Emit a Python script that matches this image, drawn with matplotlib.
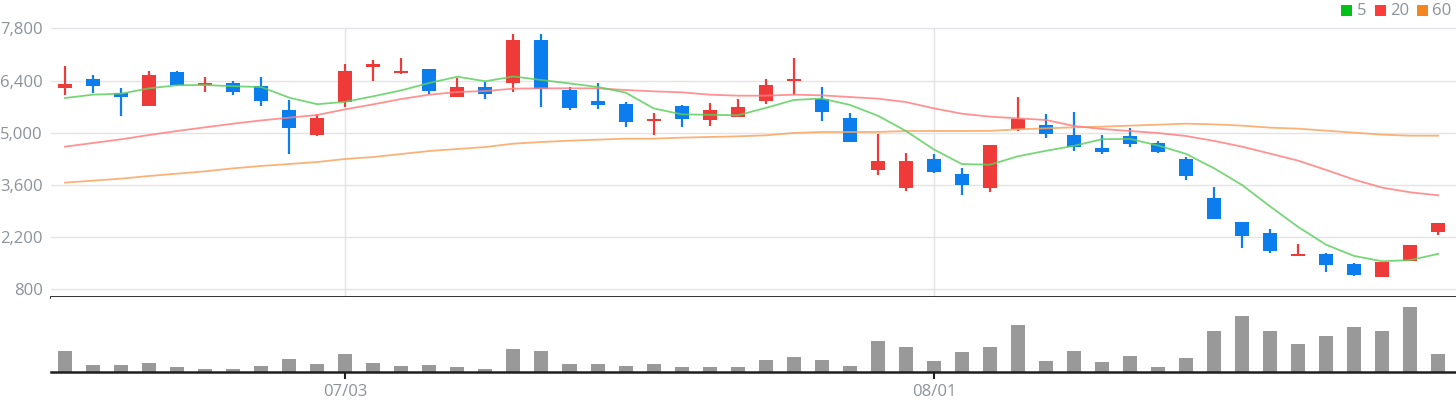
import matplotlib
matplotlib.use("Agg")
import matplotlib.pyplot as plt
from matplotlib.patches import Rectangle

plt.rcParams['font.family'] = ['Open Sans', 'DejaVu Sans']

# ---------------- data ----------------
opens  = [6210, 6440, 6065, 5725, 6630, 6280, 6335, 6255, 5610, 4950,
          5835, 6770, 6610, 6710, 5970, 6225, 6345, 7485, 6145, 5850,
          5770, 5325, 5715, 5350, 5430, 5860, 6395, 5915, 5395, 4010,
          3525, 4295, 3895, 3525, 5110, 5205, 4940, 4590, 4910, 4725,
          4295, 3250, 2605, 2310, 1705, 1750, 1480, 1140, 1570, 2345]
highs  = [6790, 6550, 6200, 6655, 6655, 6495, 6390, 6495, 5880, 5500,
          6845, 6950, 7005, 6710, 6475, 6360, 7650, 7650, 6220, 6335,
          5825, 5530, 5745, 5800, 5905, 6440, 7005, 6225, 5530, 4965,
          4455, 4430, 4055, 4670, 5960, 5500, 5555, 4940, 5125, 4780,
          4350, 3545, 2605, 2420, 2015, 1775, 1505, 1535, 1990, 2580]
lows   = [6010, 6075, 5460, 5725, 6260, 6090, 6010, 5715, 4430, 4910,
          5690, 6390, 6585, 6050, 5970, 5915, 6100, 5700, 5620, 5645,
          5165, 4950, 5165, 5190, 5430, 5780, 6010, 5325, 4760, 3875,
          3445, 3930, 3340, 3420, 5055, 4870, 4520, 4440, 4625, 4465,
          3740, 2695, 1910, 1785, 1705, 1275, 1165, 1140, 1570, 2265]
closes = [6310, 6260, 5970, 6550, 6280, 6335, 6100, 5860, 5135, 5395,
          6655, 6845, 6655, 6130, 6225, 6050, 7485, 6180, 5670, 5755,
          5295, 5370, 5375, 5610, 5690, 6280, 6440, 5565, 4760, 4240,
          4240, 3955, 3605, 4670, 5370, 4975, 4625, 4490, 4705, 4490,
          3850, 2695, 2240, 1835, 1740, 1460, 1195, 1535, 1990, 2580]
volumes = [21, 7, 7, 9, 5, 3, 3, 6, 13, 8,
           18, 9, 6, 7, 5, 3, 23, 21, 8, 8,
           6, 8, 5, 5, 5, 12, 15, 12, 6, 31,
           25, 11, 20, 25, 47, 11, 21, 10, 16, 5,
           14, 41, 56, 41, 28, 36, 45, 41, 65, 18]
volumes = [v * 10000 for v in volumes]

ma5 = [5932, 6021, 6048, 6191, 6274, 6279, 6247, 6225, 5942, 5765,
       5829, 5978, 6137, 6336, 6502, 6381, 6509, 6414, 6322, 6228,
       6077, 5654, 5493, 5481, 5468, 5665, 5879, 5917, 5747, 5457,
       5049, 4552, 4160, 4142, 4368, 4515, 4649, 4826, 4833, 4657,
       4432, 4046, 3596, 3022, 2472, 1994, 1694, 1553, 1584, 1752]
ma20 = [4626, 4725, 4823, 4939, 5047, 5145, 5243, 5330, 5405, 5476,
        5628, 5762, 5905, 6021, 6092, 6119, 6182, 6191, 6191, 6191,
        6146, 6110, 6084, 6021, 5994, 5994, 6021, 6003, 5958, 5914,
        5824, 5654, 5511, 5431, 5386, 5342, 5181, 5100, 5047, 4993,
        4912, 4780, 4626, 4439, 4251, 4001, 3741, 3527, 3402, 3321]
ma60 = [3661, 3715, 3768, 3840, 3902, 3965, 4045, 4108, 4161, 4215,
        4296, 4349, 4430, 4510, 4564, 4617, 4707, 4751, 4787, 4814,
        4841, 4841, 4868, 4886, 4903, 4930, 4993, 5020, 5020, 5020,
        5047, 5047, 5047, 5050, 5091, 5118, 5145, 5163, 5190, 5216,
        5243, 5225, 5190, 5136, 5109, 5055, 5002, 4948, 4921, 4921]

tick_pos = [10, 31]
tick_labels = ["07/03", "08/01"]
price_ticks = [800, 2200, 3600, 5000, 6400, 7800]
legend_labels = ["5", "20", "60"]

# ---------------- style ----------------
W, H = 1456, 400
UP = "#EF3A3A"
DOWN = "#0B7DEC"
GRID = "#E2E4E8"
TXT = "#8C929A"
MA_COLORS = ["#5FCF5F", "#FF7F7F", "#F8A560"]
LEG_COLORS = ["#00C21A", "#FF3B3B", "#F5861F"]

fig = plt.figure(figsize=(W / 100, H / 100), dpi=100)
fig.patch.set_facecolor("white")

def px_axes(x0, y0, x1, y1):
    return fig.add_axes([x0 / W, 1 - y1 / H, (x1 - x0) / W, (y1 - y0) / H])

ax = px_axes(51, 0, 1456, 297)
axv = px_axes(51, 297, 1456, 372)

n = len(closes)
xs = list(range(n))
xlim = (-0.5, 49.63)

# price pane
ax.set_xlim(*xlim)
ax.set_ylim(594, 8560)
for t in price_ticks:
    ax.axhline(t, color=GRID, lw=1.0, zorder=0)
for t in tick_pos:
    ax.vlines(t, 594, 7800, color=GRID, lw=1.0, zorder=0)

for i in xs:
    o, h, l, c = opens[i], highs[i], lows[i], closes[i]
    col = UP if c >= o else DOWN
    ax.vlines(i, l, h, color=col, lw=1.6, zorder=3)
    bottom = min(o, c)
    height = max(abs(c - o), 45)
    ax.add_patch(Rectangle((i - 0.25, bottom), 0.5, height, facecolor=col,
                           edgecolor="none", zorder=4))

for ser, col in zip([ma60, ma20, ma5], [MA_COLORS[2], MA_COLORS[1], MA_COLORS[0]]):
    ax.plot(xs, ser, color=col, lw=1.3, alpha=0.85, zorder=5)

ax.set_yticks(price_ticks)
ax.set_yticklabels([f"{t:,}" for t in price_ticks])
ax.tick_params(axis="y", length=0, pad=6, labelsize=12, labelcolor=TXT)
ax.set_xticks([])
for s in ["top", "right", "left"]:
    ax.spines[s].set_visible(False)
ax.spines["bottom"].set_color("#1E1E1E")
ax.spines["bottom"].set_linewidth(2.0)

# volume pane
axv.set_xlim(*xlim)
axv.set_ylim(0, max(volumes) * 75 / 65)
axv.bar(xs, volumes, width=0.5, color="#999999", zorder=2)
for s in ["top", "right", "left"]:
    axv.spines[s].set_visible(False)
axv.spines["bottom"].set_color("#1E1E1E")
axv.spines["bottom"].set_linewidth(1.8)
axv.set_yticks([])
axv.set_xticks(tick_pos)
axv.set_xticklabels(tick_labels)
axv.tick_params(axis="x", length=5, width=1.5, color="#1E1E1E", pad=4,
                labelsize=12, labelcolor=TXT)

# legend (top right)
sq_x = [1341, 1375, 1417]
txt_x = [1357, 1390, 1432]
for sx, tx, c, lab in zip(sq_x, txt_x, LEG_COLORS, legend_labels):
    fig.patches.append(Rectangle((sx / W, 1 - 16 / H), 11 / W, 11 / H,
                                 transform=fig.transFigure, facecolor=c,
                                 edgecolor="none"))
    fig.text(tx / W, 1 - 11 / H, lab, color=TXT, fontsize=12,
             ha="left", va="center")

fig.savefig("out.png", dpi=100, facecolor="white")
